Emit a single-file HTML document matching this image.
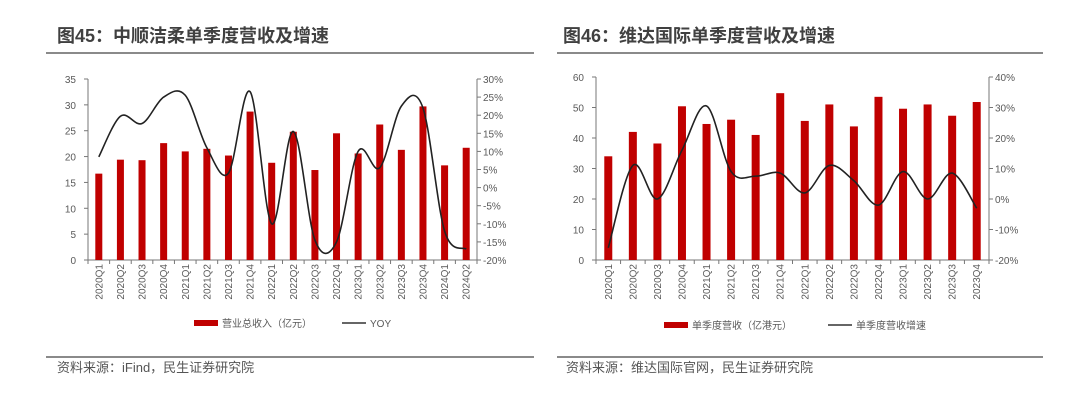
<!DOCTYPE html>
<html><head><meta charset="utf-8"><style>
html,body{margin:0;padding:0;background:#fff;width:1080px;height:402px;overflow:hidden}
svg{display:block}
text{font-family:"Liberation Sans","Noto Sans CJK SC",sans-serif}
</style></head><body>
<svg id="s" width="1080" height="402" xmlns="http://www.w3.org/2000/svg">
<text x="57" y="42" font-size="18" font-weight="bold" fill="#404040">图45：中顺洁柔单季度营收及增速</text>
<text x="563" y="42" font-size="18" font-weight="bold" fill="#404040">图46：维达国际单季度营收及增速</text>
<rect x="46" y="52" width="488" height="2" fill="#8a8a8a"/>
<rect x="557" y="52" width="486" height="2" fill="#8a8a8a"/>
<rect x="46" y="356" width="488" height="2" fill="#8a8a8a"/>
<rect x="557" y="356" width="486" height="2" fill="#8a8a8a"/>
<text x="57" y="372" font-size="13" fill="#555">资料来源：iFind，民生证券研究院</text>
<text x="566" y="372" font-size="13" fill="#555">资料来源：维达国际官网，民生证券研究院</text>
<g id="g"></g>
</svg>
<script>
var NS="http://www.w3.org/2000/svg",G=document.getElementById('g');
function el(t,a,txt){var e=document.createElementNS(NS,t);for(var k in a)e.setAttribute(k,a[k]);if(txt!=null)e.textContent=txt;G.appendChild(e);return e;}
function chart(o){
 var L=o.L,R=o.R,T=o.T,B=o.B,n=o.cats.length,w=(R-L)/n;
 var yl=function(v){return B-(v-o.lmin)/(o.lmax-o.lmin)*(B-T)};
 var yr=function(v){return B-(v-o.rmin)/(o.rmax-o.rmin)*(B-T)};
 el('line',{x1:L,y1:T,x2:L,y2:B,stroke:'#777','stroke-width':1});
 el('line',{x1:R,y1:T,x2:R,y2:B,stroke:'#777','stroke-width':1});
 el('line',{x1:L,y1:B,x2:R,y2:B,stroke:'#777','stroke-width':1});
 for(var v=o.lmin;v<=o.lmax;v+=o.lstep){var y=yl(v);el('line',{x1:L-4,y1:y,x2:L,y2:y,stroke:'#777'});el('text',{x:L-12,y:y+4,'font-size':10,fill:'#595959','text-anchor':'end'},v);}
 for(var v=o.rmin;v<=o.rmax;v+=o.rstep){var y=yr(v);el('line',{x1:R,y1:y,x2:R+4,y2:y,stroke:'#777'});el('text',{x:R+6,y:y+4,'font-size':10,fill:'#595959'},v+'%');}
 for(var i=0;i<=n;i++){var x=L+i*w;el('line',{x1:x,y1:B,x2:x,y2:B+4,stroke:'#777'});}
 var pts=[];
 for(var i=0;i<n;i++){var cx=L+(i+.5)*w;var y=yl(o.bars[i]);
  el('rect',{x:cx-o.bw/2,y:y,width:o.bw,height:B-y,fill:'#c00000'});
  el('text',{transform:'translate('+(cx+3.5)+','+(B+4)+') rotate(-90)','font-size':10,fill:'#595959','text-anchor':'end'},o.cats[i]);
  pts.push([cx,yr(o.line[i])]);}
 var d='M'+pts[0][0]+','+pts[0][1];
 for(var i=0;i<n-1;i++){var p0=pts[Math.max(0,i-1)],p1=pts[i],p2=pts[i+1],p3=pts[Math.min(n-1,i+2)];
  d+=' C'+(p1[0]+(p2[0]-p0[0])/6)+','+(p1[1]+(p2[1]-p0[1])/6)+' '+(p2[0]-(p3[0]-p1[0])/6)+','+(p2[1]-(p3[1]-p1[1])/6)+' '+p2[0]+','+p2[1];}
 el('path',{d:d,fill:'none',stroke:'#222','stroke-width':1.6});
 el('rect',{x:o.lg[0],y:o.lg[1]-3,width:24,height:6,fill:'#c00000'});
 el('text',{x:o.lg[0]+28,y:o.lg[1]+4,'font-size':10,fill:'#595959'},o.lt1);
 el('line',{x1:o.lg[2],y1:o.lg[1],x2:o.lg[2]+24,y2:o.lg[1],stroke:'#333','stroke-width':1.6});
 el('text',{x:o.lg[2]+28,y:o.lg[1]+4,'font-size':10,fill:'#595959'},o.lt2);
}
var c1=[],c2=[];
['2020','2021','2022','2023','2024'].forEach(function(y){for(var q=1;q<=4;q++){c1.push(y+'Q'+q);if(y!='2024')c2.push(y+'Q'+q);}});
c1=c1.slice(0,18);
chart({L:88,R:477,T:79,B:260,cats:c1,bw:7,lmin:0,lmax:35,lstep:5,rmin:-20,rmax:30,rstep:5,
 bars:[16.7,19.4,19.3,22.6,21,21.5,20.2,28.7,18.8,24.8,17.4,24.5,20.6,26.2,21.3,29.7,18.3,21.7],
 line:[8.5,19.7,17.7,25,25.5,11,4,26.5,-10,15.5,-14.5,-15,10,5.5,22.5,22,-12,-17],
 lg:[194,323,342],lt1:'营业总收入（亿元）',lt2:'YOY'});
chart({L:596,R:989,T:77,B:260,cats:c2,bw:8,lmin:0,lmax:60,lstep:10,rmin:-20,rmax:40,rstep:10,
 bars:[34,42,38.2,50.4,44.6,46,41,54.7,45.6,51,43.8,53.5,49.6,51,47.3,51.8],
 line:[-16,11,0,16,30.5,9,7.5,8.5,2,11,6,-2,9,0,8.5,-3],
 lg:[664,325,828],lt1:'单季度营收（亿港元）',lt2:'单季度营收增速'});
</script>
</body></html>
